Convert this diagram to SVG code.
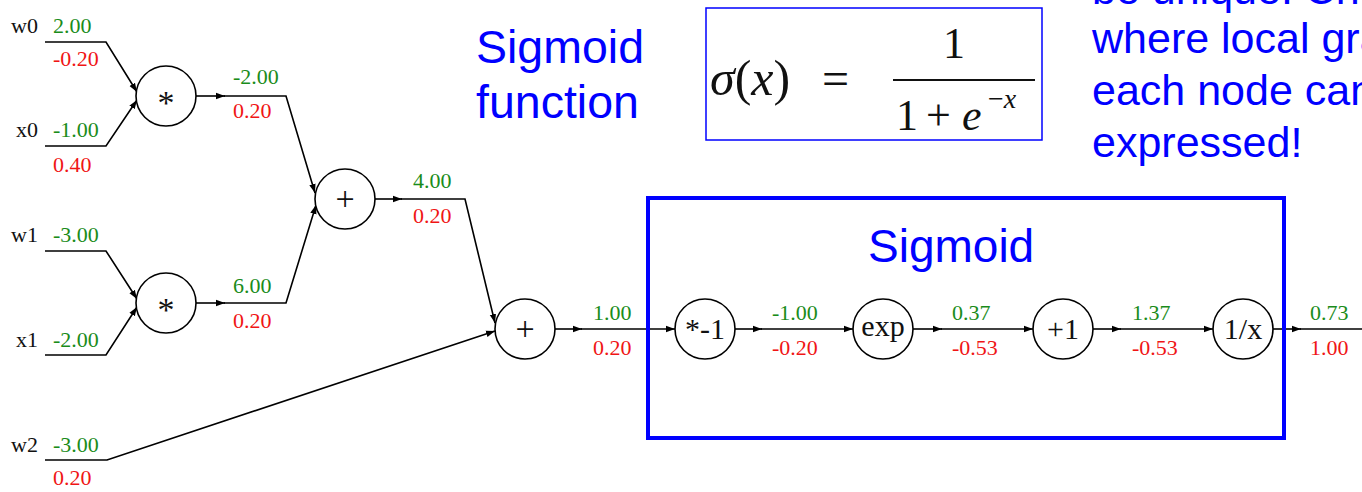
<svg xmlns="http://www.w3.org/2000/svg" width="1362" height="492" viewBox="0 0 1362 492">
<style>
.node{fill:#fff;stroke:#000;stroke-width:1.6}
.nl{font-family:"Liberation Serif",serif;font-size:30px;fill:#111;text-anchor:middle}
.big{font-size:34px}
.in{font-family:"Liberation Serif",serif;font-size:22px;fill:#111;text-anchor:end}
.g{font-family:"Liberation Serif",serif;font-size:22px;fill:#1a8c1a}
.r{font-family:"Liberation Serif",serif;font-size:22px;fill:#f01515}
.e{fill:none;stroke:#000;stroke-width:1.6}
.blue{font-family:"Liberation Sans",Arial,sans-serif;fill:#0000ff}
.m{font-family:"Liberation Serif",serif;fill:#111}
</style>
<defs>
<marker id="ah" markerUnits="userSpaceOnUse" markerWidth="10" markerHeight="8" refX="9" refY="4" orient="auto">
<path d="M0,0.8 L9,4 L0,7.2 z" fill="#000"/>
</marker>
</defs>
<rect width="1362" height="492" fill="#fff"/>

<g id="connectors">
<path class="e" d="M45,42 L106,42 L137,92" marker-end="url(#ah)"/>
<path class="e" d="M45,146 L106,146 L137,100" marker-end="url(#ah)"/>
<path class="e" d="M196,96 L225,96" marker-end="url(#ah)"/>
<path class="e" d="M224,96 L286,96 L315,193" marker-end="url(#ah)"/>
<path class="e" d="M45,251 L106,251 L137,299" marker-end="url(#ah)"/>
<path class="e" d="M45,355 L106,355 L137,307" marker-end="url(#ah)"/>
<path class="e" d="M196,303 L225,303" marker-end="url(#ah)"/>
<path class="e" d="M224,303 L286,303 L316,205" marker-end="url(#ah)"/>
<path class="e" d="M375,199 L402,199" marker-end="url(#ah)"/>
<path class="e" d="M401,199 L465,199 L495,323" marker-end="url(#ah)"/>
<path class="e" d="M45,460 L107,460 L495,331" marker-end="url(#ah)"/>
<path class="e" d="M555,329 L582,329" marker-end="url(#ah)"/>
<path class="e" d="M581,329 L675,329" marker-end="url(#ah)"/>
<path class="e" d="M735,329 L762,329" marker-end="url(#ah)"/>
<path class="e" d="M761,329 L853,329" marker-end="url(#ah)"/>
<path class="e" d="M913,329 L942,329" marker-end="url(#ah)"/>
<path class="e" d="M941,329 L1033,329" marker-end="url(#ah)"/>
<path class="e" d="M1093,329 L1121,329" marker-end="url(#ah)"/>
<path class="e" d="M1120,329 L1213,329" marker-end="url(#ah)"/>
<path class="e" d="M1273,329 L1301,329" marker-end="url(#ah)"/>
<path class="e" d="M1300,329 L1362,329"/>
</g>

<g id="inputs">
<text class="in" x="38" y="33">w0</text>
<text class="g" x="53" y="33">2.00</text>
<text class="r" x="53" y="66">-0.20</text>
<text class="in" x="38" y="137">x0</text>
<text class="g" x="53" y="137">-1.00</text>
<text class="r" x="53" y="172">0.40</text>
<text class="in" x="38" y="242">w1</text>
<text class="g" x="53" y="242">-3.00</text>
<text class="in" x="38" y="347">x1</text>
<text class="g" x="53" y="347">-2.00</text>
<text class="in" x="38" y="452">w2</text>
<text class="g" x="53" y="452">-3.00</text>
<text class="r" x="53" y="485">0.20</text>
</g>

<g id="mul0">
<circle class="node" cx="166" cy="96" r="30"/>
<text class="nl big" x="166" y="114">*</text>
</g>
<g id="mul0-out">
<text class="g" x="233" y="84">-2.00</text>
<text class="r" x="233" y="118">0.20</text>
</g>
<g id="mul1">
<circle class="node" cx="166" cy="303" r="30"/>
<text class="nl big" x="166" y="321">*</text>
</g>
<g id="mul1-out">
<text class="g" x="233" y="293">6.00</text>
<text class="r" x="233" y="328">0.20</text>
</g>
<g id="add0">
<circle class="node" cx="345" cy="199" r="30"/>
<text class="nl big" x="345" y="210">+</text>
</g>
<g id="add0-out">
<text class="g" x="413" y="188">4.00</text>
<text class="r" x="413" y="223">0.20</text>
</g>
<g id="add1">
<circle class="node" cx="525" cy="329" r="30"/>
<text class="nl big" x="525" y="340">+</text>
</g>
<g id="add1-out">
<text class="g" x="593" y="320">1.00</text>
<text class="r" x="593" y="355">0.20</text>
</g>

<g id="sigmoid-box">
<rect x="648" y="198" width="636" height="240" fill="none" stroke="#0000ff" stroke-width="4"/>
<text class="blue" x="868" y="262" font-size="46">Sigmoid</text>
</g>

<g id="neg">
<circle class="node" cx="705" cy="329" r="30"/>
<text class="nl" x="705" y="339">*-1</text>
</g>
<g id="neg-out">
<text class="g" x="772" y="320">-1.00</text>
<text class="r" x="772" y="355">-0.20</text>
</g>
<g id="exp">
<circle class="node" cx="883" cy="329" r="30"/>
<text class="nl" x="883" y="336">exp</text>
</g>
<g id="exp-out">
<text class="g" x="952" y="320">0.37</text>
<text class="r" x="952" y="355">-0.53</text>
</g>
<g id="plus1">
<circle class="node" cx="1063" cy="329" r="30"/>
<text class="nl" x="1063" y="339">+1</text>
</g>
<g id="plus1-out">
<text class="g" x="1132" y="320">1.37</text>
<text class="r" x="1132" y="355">-0.53</text>
</g>
<g id="inv">
<circle class="node" cx="1243" cy="329" r="30"/>
<text class="nl" x="1243" y="339">1/x</text>
</g>
<g id="inv-out">
<text class="g" x="1310" y="320">0.73</text>
<text class="r" x="1310" y="355">1.00</text>
</g>

<g id="title">
<text class="blue" x="476" y="63" font-size="46.5">Sigmoid</text>
<text class="blue" x="476" y="118" font-size="46.5">function</text>
</g>

<g id="formula">
<rect x="706" y="8" width="336" height="132" fill="#fff" stroke="#0000ff" stroke-width="1.5"/>
<text class="m" x="710" y="95" font-size="50"><tspan font-style="italic">σ</tspan>(<tspan font-style="italic">x</tspan>)</text>
<text class="m" x="822" y="95" font-size="48">=</text>
<line x1="893" y1="80" x2="1035" y2="80" stroke="#111" stroke-width="2"/>
<text class="m" x="954" y="58" font-size="44" text-anchor="middle">1</text>
<text class="m" x="896" y="130" font-size="44">1</text>
<text class="m" x="926" y="130" font-size="44">+</text>
<text class="m" x="962" y="130" font-size="44" font-style="italic">e</text>
<text class="m" x="988" y="108" font-size="28">−<tspan font-style="italic">x</tspan></text>
</g>

<g id="note">
<text class="blue" x="1092" y="4" font-size="43">be unique. Choose</text>
<text class="blue" x="1092" y="53" font-size="43">where local gradients</text>
<text class="blue" x="1092" y="105" font-size="43">each node can</text>
<text class="blue" x="1092" y="157" font-size="43">expressed!</text>
</g>
</svg>
